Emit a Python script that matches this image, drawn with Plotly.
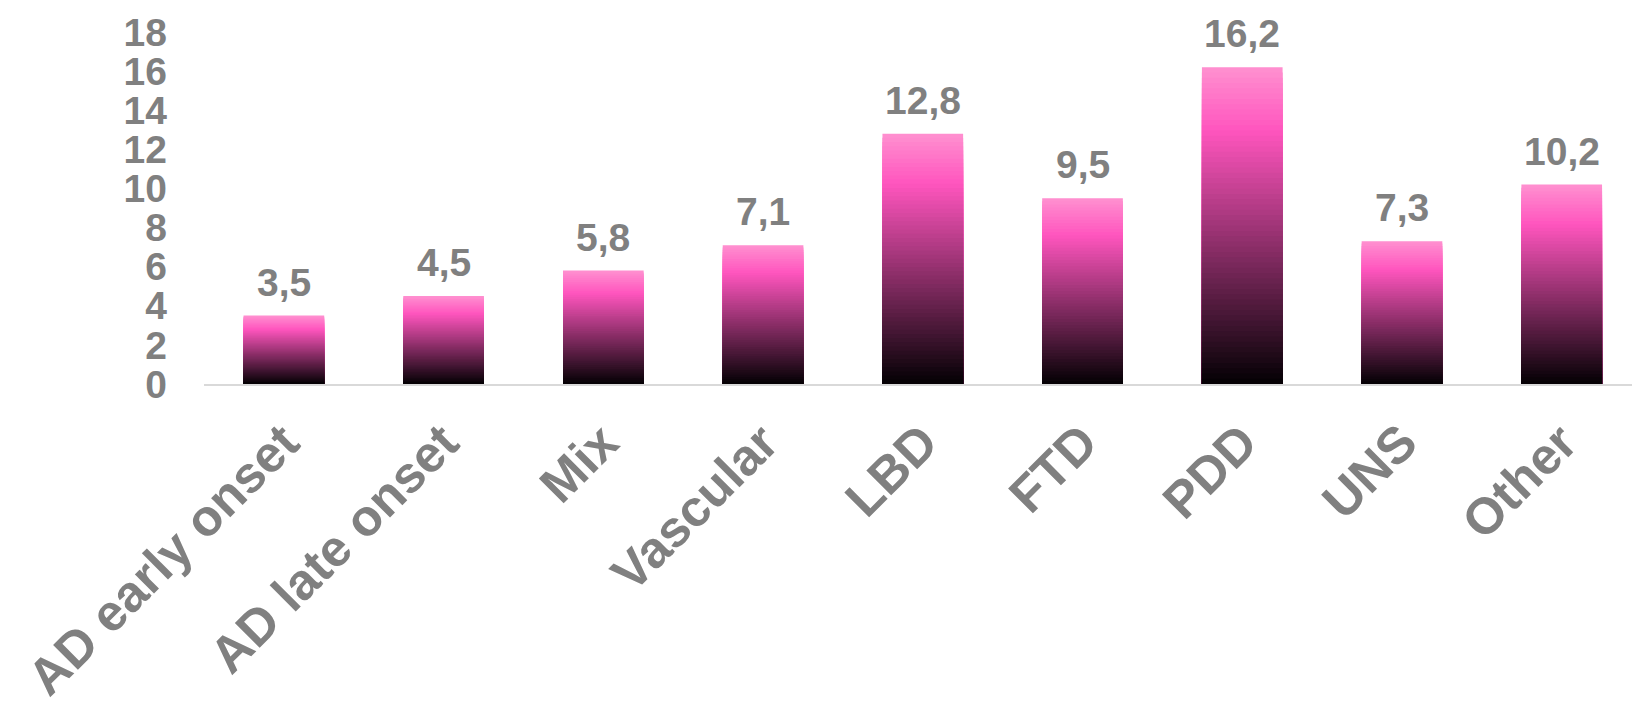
import plotly.graph_objects as go

categories = ["AD early onset", "AD late onset", "Mix", "Vascular", "LBD", "FTD", "PDD", "UNS", "Other"]
values = [3.5, 4.5, 5.8, 7.1, 12.8, 9.5, 16.2, 7.3, 10.2]
value_labels = ["3,5", "4,5", "5,8", "7,1", "12,8", "9,5", "16,2", "7,3", "10,2"]
y_ticks = [0, 2, 4, 6, 8, 10, 12, 14, 16, 18]

GRAY = "#808080"
FONT = "Liberation Sans"

# gradient stops: position from bottom (0) to top (1)
stops = [(0.0, (3, 0, 3)), (0.8, (255, 85, 190)), (1.0, (255, 145, 208))]

def grad(f):
    for (p0, c0), (p1, c1) in zip(stops[:-1], stops[1:]):
        if p0 <= f <= p1:
            t = (f - p0) / (p1 - p0)
            return "rgb(%d,%d,%d)" % tuple(round(a + (b - a) * t) for a, b in zip(c0, c1))
    return "rgb(%d,%d,%d)" % stops[-1][1]

N = 60
fig = go.Figure()
for k in range(N, 0, -1):
    f = k / N
    fig.add_trace(go.Bar(
        x=categories, y=[v * f for v in values],
        marker=dict(color=grad(f - 0.5 / N), line=dict(width=0)),
        width=0.505, showlegend=False, hoverinfo="skip"))

for c, v, t in zip(categories, values, value_labels):
    fig.add_annotation(x=c, y=v, text=t, showarrow=False, yanchor="bottom", yshift=10,
                       font=dict(family=FONT, size=39, color=GRAY, weight="bold"))

fig.update_layout(
    width=1632, height=711, barmode="overlay",
    margin=dict(l=204, r=0, t=32, b=327),
    plot_bgcolor="white", paper_bgcolor="white",
    xaxis=dict(range=[-0.5, 8.44], showline=True, linecolor="#d9d9d9", linewidth=2,
               showgrid=False, tickangle=-45, ticks="", ticklabelstandoff=6, automargin=False,
               tickfont=dict(family=FONT, size=51, color=GRAY, weight="bold")),
    yaxis=dict(range=[0, 18], tickvals=y_ticks, showgrid=False, zeroline=False, showline=False,
               ticklabelstandoff=36, automargin=False,
               tickfont=dict(family=FONT, size=39, color=GRAY, weight="bold")),
)
fig.write_html("out.html", post_script="document.body.style.margin='0';",
               config={"displayModeBar": False})
